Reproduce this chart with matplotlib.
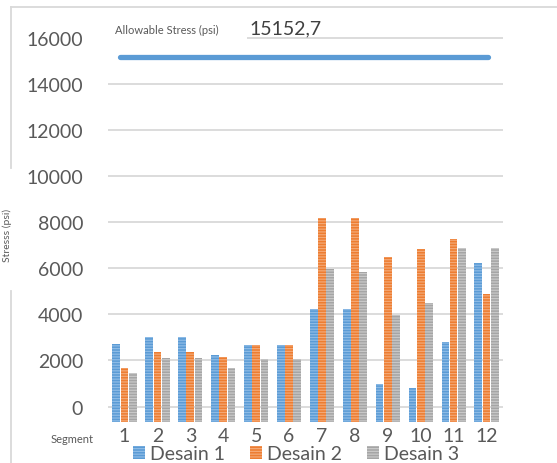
import matplotlib.pyplot as plt
from matplotlib.patches import Rectangle
from matplotlib.lines import Line2D
import numpy as np

plt.rcParams['font.family'] = ['Lato', 'DejaVu Sans']
plt.rcParams['hatch.linewidth'] = 0.9

segments = ['1', '2', '3', '4', '5', '6', '7', '8', '9', '10', '11', '12']
desain_1 = [2700, 3000, 3000, 2230, 2650, 2650, 4220, 4220, 960, 820, 2800, 6230]
desain_2 = [1650, 2380, 2380, 2130, 2650, 2650, 8180, 8190, 6490, 6810, 7280, 4890]
desain_3 = [1450, 2100, 2100, 1690, 2050, 2050, 5970, 5840, 3950, 4480, 6880, 6880]
series_names = ['Desain 1', 'Desain 2', 'Desain 3']
allowable = 15152.7

colors = ['#5B9BD5', '#ED7D31', '#A5A5A5']
stripes = ['#8DBBE6', '#F4A875', '#C8C8C8']
grey_txt = '#595959'
grid_col = '#D9D9D9'

fig = plt.figure(figsize=(5.57, 4.64), dpi=100)
ax = fig.add_axes([0.194, 0.0894, 0.709, 0.829])

base = -650
x = np.arange(1, len(segments) + 1)
w = 0.235
for i, vals in enumerate([desain_1, desain_2, desain_3]):
    vals = np.array(vals, dtype=float)
    ax.bar(x + (i - 1) * 0.25, vals - base, bottom=base, width=w,
           color=colors[i], edgecolor=stripes[i], linewidth=0,
           hatch='------', label=series_names[i], zorder=2)

# allowable stress line
ax.plot([0.86, 12.05], [allowable, allowable], color='#5B9BD5', lw=3.8,
        solid_capstyle='round', zorder=3)

ax.set_xlim(0.5, 12.5)
ax.set_ylim(base, 16030)
ax.set_yticks(range(0, 16001, 2000))
ax.set_xticks(x)
ax.set_xticklabels(segments)
ax.tick_params(axis='y', length=0, pad=18, labelsize=14, labelcolor=grey_txt)
ax.tick_params(axis='x', length=0, pad=4, labelsize=14, labelcolor=grey_txt)
ax.grid(axis='y', color=grid_col, lw=1.3)
ax.set_axisbelow(True)
for s in ax.spines.values():
    s.set_visible(False)

# white box behind the label hides part of the top gridline
ax.add_patch(Rectangle((0, 15650), 0.352, 700, transform=ax.get_yaxis_transform(),
                       facecolor='white', edgecolor='none', zorder=1.5, clip_on=False))
ax.text(0.018, 16100, 'Allowable Stress (psi)', transform=ax.get_yaxis_transform(),
        fontsize=8, color=grey_txt, va='bottom', ha='left')
ax.text(0.357, 16050, '15152,7', transform=ax.get_yaxis_transform(),
        fontsize=14, color='#404040', va='bottom', ha='left')

fig.text(72 / 557, 1 - 440 / 464, 'Segment', fontsize=8, color=grey_txt,
         ha='center', va='center')
fig.text(7 / 557, 1 - 235 / 464, 'Stresss (psi)', fontsize=7.5, color=grey_txt,
         rotation=90, ha='center', va='center')

# outer chart border, broken on the left side
fig.add_artist(Line2D([11 / 557, 1], [1 - 8 / 464, 1 - 8 / 464], color=grid_col, lw=1.3))
fig.add_artist(Line2D([11 / 557, 11 / 557], [1 - 8 / 464, 1 - 169 / 464], color=grid_col, lw=1.3))
fig.add_artist(Line2D([11 / 557, 11 / 557], [1 - 292 / 464, 0], color=grid_col, lw=1.3))

fig.legend(loc='center', bbox_to_anchor=(296 / 557, 1 - 455 / 464), ncol=3,
           frameon=False, fontsize=14, labelcolor=grey_txt, handlelength=0.6,
           handleheight=0.6, handletextpad=0.25, columnspacing=1.3,
           borderpad=0, borderaxespad=0)

fig.savefig('out.png', dpi=100)
